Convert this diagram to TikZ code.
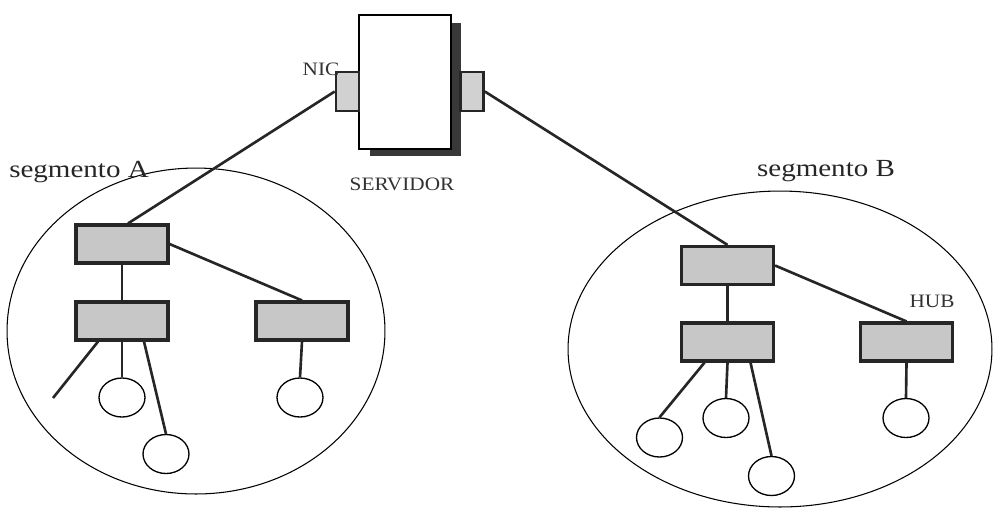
\documentclass[tikz,border=0pt]{standalone}
\usepackage{fontspec}
\setmainfont{Liberation Serif}
\newfontfamily\labfont[FakeStretch=1.12]{Liberation Serif}
\newfontfamily\seglabfont[FakeStretch=1.18]{Liberation Serif}
\usetikzlibrary{shapes.geometric,shadows}
\begin{document}
\begin{tikzpicture}[x=0.02cm,y=-0.02cm,
  hubbox/.style={rectangle,draw=black!85,line width=1.8pt,fill=black!22,
    minimum width=1.84cm,minimum height=0.76cm,inner sep=0pt},
  station/.style={ellipse,draw=black,line width=0.75pt,fill=white,
    minimum width=0.92cm,minimum height=0.78cm,inner sep=0pt},
  segment/.style={ellipse,draw=black,line width=0.6pt,inner sep=0pt},
  link/.style={draw=black!85,line width=1.5pt},
  nicbox/.style={rectangle,draw=black!85,line width=1.5pt,fill=black!18,
    minimum width=0.46cm,minimum height=0.78cm,inner sep=0pt},
  servbox/.style={rectangle,draw=black,line width=1.4pt,fill=white,
    minimum width=1.84cm,minimum height=2.68cm,inner sep=0pt,
    drop shadow={shadow xshift=0.21cm,shadow yshift=-0.15cm,
      fill=black!78,opacity=1}},
  lab/.style={font=\seglabfont\fontsize{14pt}{16pt}\selectfont,text=black!85,inner sep=0pt},
  smalllab/.style={font=\labfont\fontsize{10.8pt}{12pt}\selectfont,text=black!80,inner sep=0pt}]
\useasboundingbox (0,0) rectangle (993,512);

% network segments
\node[segment,minimum width=7.56cm,minimum height=6.52cm] (segA) at (196,331) {};
\node[segment,minimum width=8.48cm,minimum height=6.32cm] (segB) at (780,349) {};

% server with its two network cards
\node[servbox] (srv) at (405,82) {};
\node[nicbox] (nicL) at (347.5,91.5) {};
\node[nicbox] (nicR) at (472,91.5) {};

% segment A devices
\node[hubbox] (A1) at (122,244) {};
\node[hubbox] (A2) at (122,321) {};
\node[hubbox] (A3) at (302,321) {};
\node[station] (a1) at (122,397.5) {};
\node[station] (a2) at (166,454) {};
\node[station] (a3) at (300,397.5) {};
\coordinate (aFree) at (53,398);

% segment B devices
\node[hubbox] (B1) at (727.5,265.5) {};
\node[hubbox] (B2) at (727.5,342) {};
\node[hubbox] (B3) at (906.5,342) {};
\node[station] (b1) at (659.5,437.5) {};
\node[station] (b2) at (726,418) {};
\node[station] (b3) at (771.5,476) {};
\node[station] (b4) at (906,418) {};

% connections
\draw[link] (nicL.west) -- ([xshift=0.12cm]A1.north);
\draw[link] (nicR.east) -- (B1.north);

\draw[link] (A1.south) -- (A2.north);
\draw[link] (A1.east) -- (A3.north);
\draw[link] ([xshift=-0.48cm]A2.south) -- (aFree);
\draw[link] (A2.south) -- (a1.north);
\draw[link] ([xshift=0.44cm]A2.south) -- (a2.north);
\draw[link] (A3.south) -- (a3.north);

\draw[link] (B1.south) -- (B2.north);
\draw[link] (B1.east) -- (B3.north);
\draw[link] ([xshift=-0.46cm]B2.south) -- (b1.north);
\draw[link] (B2.south) -- (b2.north);
\draw[link] ([xshift=0.46cm]B2.south) -- (b3.north);
\draw[link] (B3.south) -- (b4.north);

% labels
\node[lab] (labA) at (79,172) {segmento A};
\node[lab] (labB) at (826,171) {segmento B};
\node[smalllab] (labS) at (402,184) {SERVIDOR};
\node[smalllab] (labN) at (321,69) {NIC};
\node[smalllab] (labH) at (932,301) {HUB};
\end{tikzpicture}
\end{document}
